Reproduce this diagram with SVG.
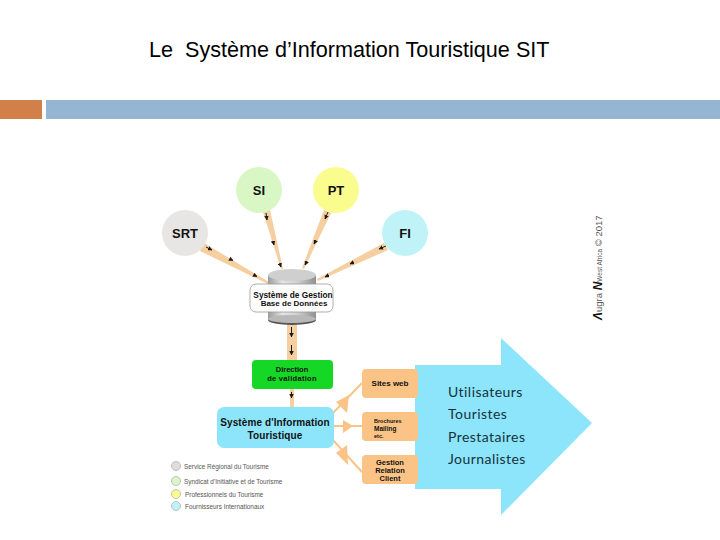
<svg xmlns="http://www.w3.org/2000/svg" width="720" height="540" viewBox="0 0 720 540">
<defs>
<linearGradient id="cyl" x1="0" x2="1" y1="0" y2="0"><stop offset="0" stop-color="#9a9a9a"/><stop offset=".3" stop-color="#e4e4e4"/><stop offset=".6" stop-color="#d2d2d2"/><stop offset="1" stop-color="#8f8f8f"/></linearGradient>
<marker id="ah" viewBox="0 0 10 10" refX="9" refY="5" markerWidth="4.500" markerHeight="4.500" orient="auto"><path d="M0 0L10 5L0 10z" fill="#1a1a1a"/></marker>
</defs>
<style>
text{font-family:"Liberation Sans",Arial,sans-serif}
.t{font-size:21.6px;fill:#000;white-space:pre}
.n{font-weight:700;fill:#111;text-anchor:middle}
.c{font-size:13px}
.u{font-family:Lato,"Liberation Sans",sans-serif;font-size:14px;letter-spacing:.45px;fill:#16323c}
.l{font-size:6.400px;fill:#555}
.w{fill:#f6cfa0}
.o{fill:#fbc486}
.ol{stroke:#fbc486;stroke-width:2;fill:none}
.m{stroke:#1a1a1a;stroke-width:1;fill:none;marker-end:url(#ah)}
.d{stroke-width:.7;stroke:#aaa}
</style>
<text class="t" x="149" y="57">Le  Système d’Information Touristique SIT</text>
<rect x="0" y="100" width="42" height="19" fill="#d2804a"/>
<rect x="46" y="100" width="674" height="19" fill="#94b6d3"/>

<g id="connectors">
<polygon class="w" points="204,243 200,251 268,284 269,282"/>
<polygon class="w" points="263,212 270,210 283,269 281,269"/>
<polygon class="w" points="324,210 331,213 304,269 302,268"/>
<polygon class="w" points="384,243 388,250 318,281 317,279"/>
<rect class="w" x="287" y="324" width="10" height="38"/>
<rect class="w" x="290" y="388" width="4" height="20"/>
<path class="ol" d="M333 413L362 383"/>
<path class="ol" d="M334 426H362"/>
<path class="ol" d="M333 440L362 472"/>
<polygon class="o" points="349,395 336,402 347,413"/>
<polygon class="o" points="353,426 343,420 343,433"/>
<polygon class="o" points="348,465 347,445 336,453"/>
<path class="m" d="M206 247L212 250"/>
<path class="m" d="M230 259L233 260.500"/>
<path class="m" d="M254 275L257 276.500"/>
<path class="m" d="M266 213L267 220"/>
<path class="m" d="M273 241L274 245"/>
<path class="m" d="M280 264L281 267"/>
<path class="m" d="M328 212L325 219"/>
<path class="m" d="M316 240L314 244"/>
<path class="m" d="M307 261L305 265"/>
<path class="m" d="M386 246L379 249"/>
<path class="m" d="M354 262L350 264"/>
<path class="m" d="M329 275L325 277"/>
<path class="m" d="M291.500 327V337"/>
<path class="m" d="M291.500 345V355"/>
<path class="m" d="M291.500 392V398"/>
</g>

<g id="node-si"><circle cx="259" cy="190" r="23" fill="#d8f7c4"/><text class="n c" x="259" y="195">SI</text></g>
<g id="node-pt"><circle cx="336" cy="190" r="23" fill="#fbfc8e"/><text class="n c" x="336" y="195">PT</text></g>
<g id="node-srt"><circle cx="185" cy="233" r="23" fill="#e8e6e4"/><text class="n c" x="185" y="238">SRT</text></g>
<g id="node-fi"><circle cx="405" cy="233" r="23" fill="#bff3f7"/><text class="n c" x="405" y="238">FI</text></g>

<g id="node-database">
<ellipse cx="292" cy="320" rx="24" ry="5" fill="#555"/>
<rect x="268" y="275" width="48" height="44" fill="url(#cyl)"/>
<ellipse cx="292" cy="319" rx="24" ry="4" fill="#b8b8b8"/>
<ellipse cx="292" cy="275" rx="24" ry="6" fill="#cfcfcf"/>
<rect x="250" y="284" width="83" height="28" rx="6" fill="#fff" fill-opacity=".93" stroke="#999" stroke-width=".8"/>
<text class="n" x="293" y="298" font-size="8.300">Système de Gestion</text>
<text class="n" x="294" y="306" font-size="8">Base de Données</text>
</g>

<g id="node-direction">
<rect x="252" y="360" width="81" height="29" rx="4" fill="#15d726"/>
<text class="n" x="292" y="372" font-size="7.500">Direction</text>
<text class="n" x="292" y="381" font-size="7.500" letter-spacing=".3">de validation</text>
</g>

<g id="node-sit">
<rect x="217" y="407" width="117" height="41" rx="7" fill="#8ce5fb"/>
<text class="n" x="275" y="426" font-size="10" letter-spacing=".1">Système d'Information</text>
<text class="n" x="275" y="439" font-size="10" letter-spacing=".1">Touristique</text>
</g>

<g id="node-arrow">
<polygon points="415,365 501,365 501,338 592,423 501,515 501,489 415,489" fill="#8ce5fb"/>
<text class="u" x="448" y="397">Utilisateurs</text>
<text class="u" x="448" y="419">Touristes</text>
<text class="u" x="448" y="442">Prestataires</text>
<text class="u" x="448" y="464">Journalistes</text>
</g>

<g id="node-sites">
<rect x="362" y="369" width="56" height="29" rx="4" class="o"/>
<text class="n" x="390" y="386" font-size="8">Sites web</text>
</g>
<g id="node-brochures">
<rect x="362" y="412" width="56" height="29" rx="4" class="o"/>
<text class="n" x="374" y="423" font-size="5.500" style="text-anchor:start">Brochures</text>
<text class="n" x="374" y="430.500" font-size="6.500" style="text-anchor:start">Mailing</text>
<text class="n" x="374" y="437.500" font-size="5.500" style="text-anchor:start">etc.</text>
</g>
<g id="node-gestion">
<rect x="362" y="455" width="56" height="29" rx="4" class="o"/>
<text class="n" x="390" y="465" font-size="7.500">Gestion</text>
<text class="n" x="390" y="473" font-size="7.500">Relation</text>
<text class="n" x="390" y="481" font-size="7.500">Client</text>
</g>

<g id="legend">
<circle class="d" cx="176" cy="466" r="4.500" fill="#e0dedc"/>
<text class="l" x="184" y="469">Service Régional du Tourisme</text>
<circle class="d" cx="176" cy="481" r="4.500" fill="#d8f7c4"/>
<text class="l" x="184" y="484">Syndicat d’Initiative et de Tourisme</text>
<circle class="d" cx="176" cy="494" r="4.500" fill="#fbfc8e"/>
<text class="l" x="185" y="497">Professionnels du Tourisme</text>
<circle class="d" cx="176" cy="506" r="4.500" fill="#bff3f7"/>
<text class="l" x="185" y="509">Fournisseurs Internationaux</text>
</g>

<text transform="translate(602,320) rotate(-90)" font-size="9.500" fill="#555"><tspan font-weight="700" font-style="italic" fill="#111" font-size="12">Λ</tspan>ugra <tspan font-weight="700" font-style="italic" fill="#111" font-size="12">N</tspan><tspan font-size="6.500">West Africa</tspan>  © 2017</text>
</svg>
